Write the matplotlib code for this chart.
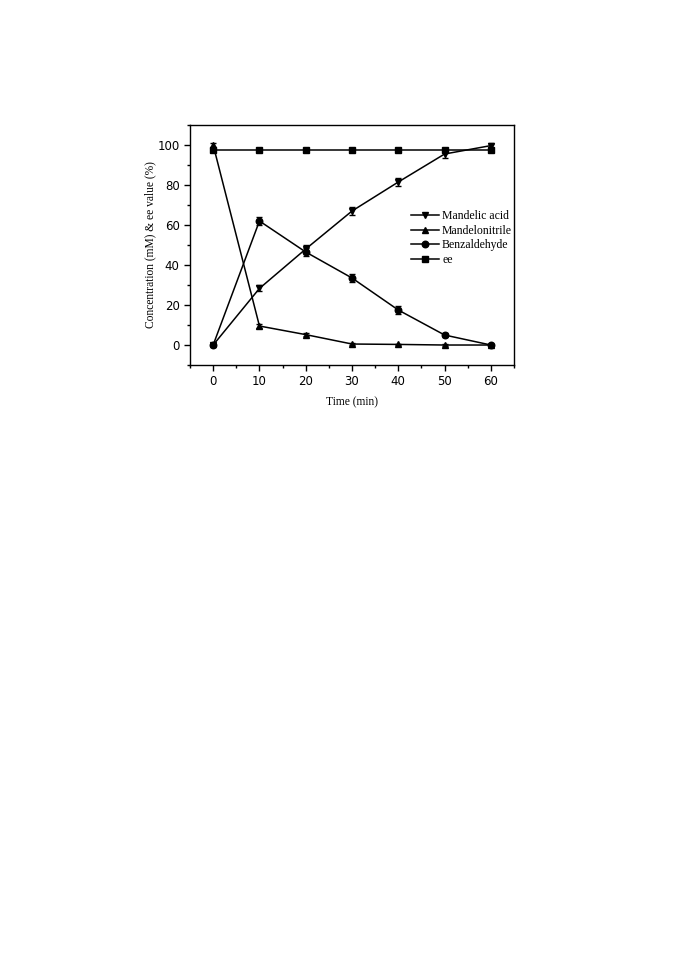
import matplotlib
matplotlib.use("Agg")
import matplotlib.pyplot as plt
from matplotlib.ticker import MultipleLocator
from matplotlib.lines import Line2D

time = [0, 10, 20, 30, 40, 50, 60]
mandelic_acid = [0, 28.3, 48.0, 67.0, 81.5, 95.5, 99.7]
mandelic_err = [0.8, 1.5, 1.8, 2.0, 2.0, 2.0, 1.5]
mandelonitrile = [100.0, 9.5, 5.2, 0.5, 0.3, 0.0, 0.0]
mandelonitrile_err = [0.8, 1.0, 0.8, 0.3, 0.3, 0.3, 0.3]
benzaldehyde = [0, 62.0, 46.5, 33.5, 17.5, 5.0, 0.0]
benzaldehyde_err = [0.5, 2.0, 2.0, 2.0, 1.8, 0.8, 0.5]
ee = [97.5, 97.5, 97.5, 97.5, 97.5, 97.5, 97.5]
ee_err = [0.3, 0.3, 0.3, 0.3, 0.3, 0.3, 0.3]

labels = ["Mandelic acid", "Mandelonitrile", "Benzaldehyde", "ee"]
markers = ["v", "^", "o", "s"]

fig = plt.figure(figsize=(6.85, 9.69), dpi=100)
ax = fig.add_axes([0.2774, 0.6233, 0.473, 0.2477])

common = dict(color="black", lw=1.1, elinewidth=1.0, capsize=2.5, capthick=1.0,
              markersize=4.7)
series = [(mandelic_acid, mandelic_err), (mandelonitrile, mandelonitrile_err),
          (benzaldehyde, benzaldehyde_err), (ee, ee_err)]
for (vals, errs), m in zip(series, markers):
    ax.errorbar(time, vals, yerr=errs, marker=m, **common)

ax.set_xlim(-5, 65)
ax.set_ylim(-10, 110)
ax.xaxis.set_major_locator(MultipleLocator(10))
ax.xaxis.set_minor_locator(MultipleLocator(5))
ax.yaxis.set_major_locator(MultipleLocator(20))
ax.yaxis.set_minor_locator(MultipleLocator(10))
ax.tick_params(which="major", direction="out", length=4, width=1, labelsize=8.5)
ax.tick_params(which="minor", direction="out", length=2.5, width=1)
for s in ax.spines.values():
    s.set_linewidth(1.0)

serif = ["Liberation Serif", "DejaVu Serif"]
ax.set_xlabel("Time (min)", family=serif, fontsize=8.3, labelpad=6)
ax.set_ylabel("Concentration (mM) & ee value (%)", family=serif, fontsize=8.3, labelpad=1)

handles = [Line2D([], [], color="black", lw=1.1, marker=m, markersize=4.7) for m in markers]
leg = ax.legend(handles, labels, loc="upper left", bbox_to_anchor=(0.665, 0.67), frameon=False,
                prop={"family": serif, "size": 8.5}, handlelength=2.3,
                handletextpad=0.3, labelspacing=0.22, borderpad=0)

fig.savefig("out.png", dpi=100)
